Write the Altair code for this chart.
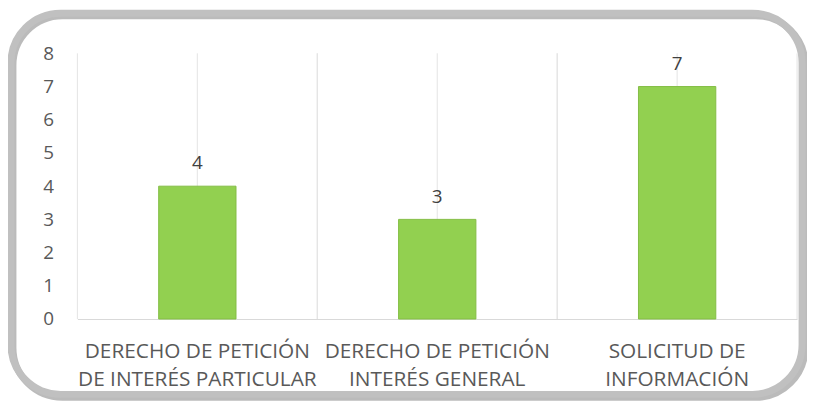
import altair as alt
import pandas as pd

categories = [
    "DERECHO DE PETICIÓN|DE INTERÉS PARTICULAR",
    "DERECHO DE PETICIÓN|INTERÉS GENERAL",
    "SOLICITUD DE|INFORMACIÓN",
]
values = [4, 3, 7]
y_ticks = [0, 1, 2, 3, 4, 5, 6, 7, 8]

df = pd.DataFrame({"cat": categories, "val": values})
frame_df = pd.DataFrame({"k": [0]})

W, H = 726, 268
FONT = "Open Sans"
TXT = "#595959"
GRID = "#e4e4e4"

xscale = alt.Scale(domain=categories, paddingInner=0, paddingOuter=0)
yscale = alt.Scale(domain=[0, 8])

base = alt.Chart(df)

x_axis = alt.Axis(
    labelExpr="split(datum.label, '|')",
    labelAngle=0,
    labelFont=FONT,
    labelFontSize=21,
    labelColor=TXT,
    labelLineHeight=28,
    labelBaseline="top",
    labelPadding=22,
    labelLimit=0,
    labelOverlap=False,
    ticks=False,
    domainColor="#d9d9d9",
    domainWidth=1,
    grid=False,
    title=None,
)
y_axis = alt.Axis(
    values=y_ticks,
    labelFont=FONT,
    labelFontSize=19,
    labelColor=TXT,
    labelPadding=24,
    labelOverlap=False,
    ticks=False,
    domain=False,
    grid=False,
    title=None,
)


def xe(**kw):
    return alt.X("cat:N", scale=xscale, sort=categories, axis=x_axis, **kw)


shadow = alt.Chart(frame_df).mark_rect(
    filled=False, stroke="#9e9e9e", strokeWidth=7, cornerRadius=50, opacity=0.7
).encode(
    x=alt.value(-65), x2=alt.value(734), y=alt.value(-38), y2=alt.value(347)
)
frame = alt.Chart(frame_df).mark_rect(
    filled=False, stroke="#c0c0c0", strokeWidth=7, cornerRadius=50
).encode(
    x=alt.value(-67), x2=alt.value(731), y=alt.value(-40.5), y2=alt.value(344)
)

grid_start = base.mark_rule(color=GRID, strokeWidth=1).encode(
    x=xe(bandPosition=0),
    y=alt.datum(8, scale=yscale, axis=y_axis),
    y2=alt.datum(0),
)
grid_end = base.mark_rule(color=GRID, strokeWidth=1).encode(
    x=xe(bandPosition=1),
    y=alt.datum(8, scale=yscale, axis=y_axis),
    y2=alt.datum(0),
)
grid_mid = base.mark_rule(color=GRID, strokeWidth=1).encode(
    x=xe(),
    y=alt.datum(8, scale=yscale, axis=y_axis),
    y2=alt.datum(0),
)

bars = base.mark_bar(
    width=alt.RelativeBandSize(78 / 242), color="#92d050", stroke="#84bd45", strokeWidth=1
).encode(
    x=xe(),
    y=alt.Y("val:Q", scale=yscale, axis=y_axis),
)

labels = base.mark_text(
    dy=-23, baseline="middle", font=FONT, fontSize=19, color="#404040"
).encode(
    x=xe(),
    y=alt.Y("val:Q", scale=yscale, axis=y_axis),
    text=alt.Text("val:Q"),
)

chart = alt.layer(
    shadow, frame, grid_start, grid_end, grid_mid, bars, labels
).properties(
    width=W,
    height=H,
    autosize=alt.AutoSizeParams(type="none"),
    padding={"left": 70, "top": 44, "right": 10, "bottom": 84},
    background="white",
).configure_view(stroke=None)

chart.save("out.html", embed_options={"renderer": "svg", "actions": False})
